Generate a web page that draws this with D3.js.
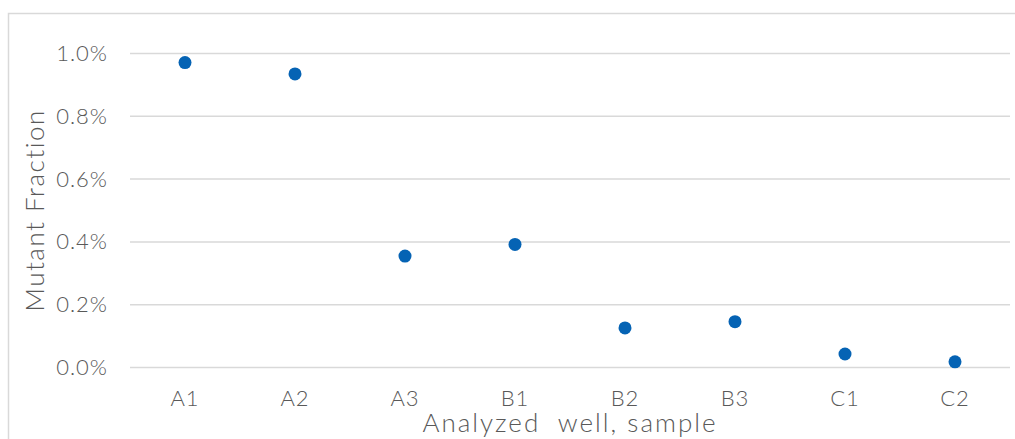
<!DOCTYPE html>
<html>
<head>
<meta charset="utf-8">
<script src="https://cdn.jsdelivr.net/npm/d3@7"></script>
<style>
  body { margin: 0; background: #fff; }
  text { font-family: "Lato", "DejaVu Sans", sans-serif; fill: #595959; }
</style>
</head>
<body>
<div id="mainDiv"></div>
<script>
// chart data
var wells = ["A1", "A2", "A3", "B1", "B2", "B3", "C1", "C2"];
var mutantFraction = [0.00971, 0.00935, 0.00355, 0.00392, 0.00126, 0.00146, 0.00043, 0.00018];
var yTicks = [0, 0.002, 0.004, 0.006, 0.008, 0.010];

var width = 1015, height = 439;
var plotLeft = 130, plotRight = 1010, plotTop = 53.5, plotBottom = 367.5;

var svg = d3.select("#mainDiv").append("svg")
  .attr("width", width)
  .attr("height", height);

// outer frame
svg.append("rect")
  .attr("x", 8.5).attr("y", 13.5)
  .attr("width", 1020).attr("height", 440)
  .attr("fill", "none")
  .attr("stroke", "#d9d9d9")
  .attr("stroke-width", 1.5);

var x = d3.scaleBand().domain(wells).range([plotLeft, plotRight]);
var y = d3.scaleLinear().domain([0, 0.010]).range([plotBottom, plotTop]);

// gridlines
svg.append("g").selectAll("line")
  .data(yTicks)
  .enter().append("line")
  .attr("x1", plotLeft).attr("x2", plotRight)
  .attr("y1", d => y(d)).attr("y2", d => y(d))
  .attr("stroke", "#d9d9d9")
  .attr("stroke-width", 1.5);

function styleTicks(g) {
  g.select(".domain").remove();
  g.selectAll("text")
    .attr("font-size", "22px")
    .attr("font-family", "Lato")
    .attr("font-weight", 300)
    .attr("letter-spacing", "1px")
    .attr("fill", "#595959");
}

// y axis labels
var yAxis = d3.axisLeft(y).tickValues(yTicks).tickFormat(d3.format(".1%")).tickSize(0).tickPadding(22);
svg.append("g").attr("transform", "translate(" + plotLeft + ",0)").call(yAxis).call(styleTicks);

// x axis labels
var xAxis = d3.axisBottom(x).tickSize(0).tickPadding(23);
svg.append("g").attr("transform", "translate(0," + plotBottom + ")").call(xAxis).call(styleTicks);

// points
svg.append("g").selectAll("circle")
  .data(mutantFraction)
  .enter().append("circle")
  .attr("cx", (d, i) => x(wells[i]) + x.bandwidth() / 2)
  .attr("cy", d => y(d))
  .attr("r", 6.5)
  .attr("fill", "#0563B4");

// axis titles
svg.append("text")
  .attr("transform", "translate(44," + ((plotTop + plotBottom) / 2) + ") rotate(-90)")
  .attr("text-anchor", "middle")
  .attr("font-size", "26px")
  .attr("font-weight", 300)
  .attr("letter-spacing", "1.5px")
  .text("Mutant Fraction");

svg.append("text")
  .attr("x", (plotLeft + plotRight) / 2)
  .attr("y", 432)
  .attr("text-anchor", "middle")
  .attr("font-size", "26px")
  .attr("font-weight", 300)
  .attr("letter-spacing", "2px")
  .style("white-space", "pre")
  .text("Analyzed  well, sample");
</script>
</body>
</html>
